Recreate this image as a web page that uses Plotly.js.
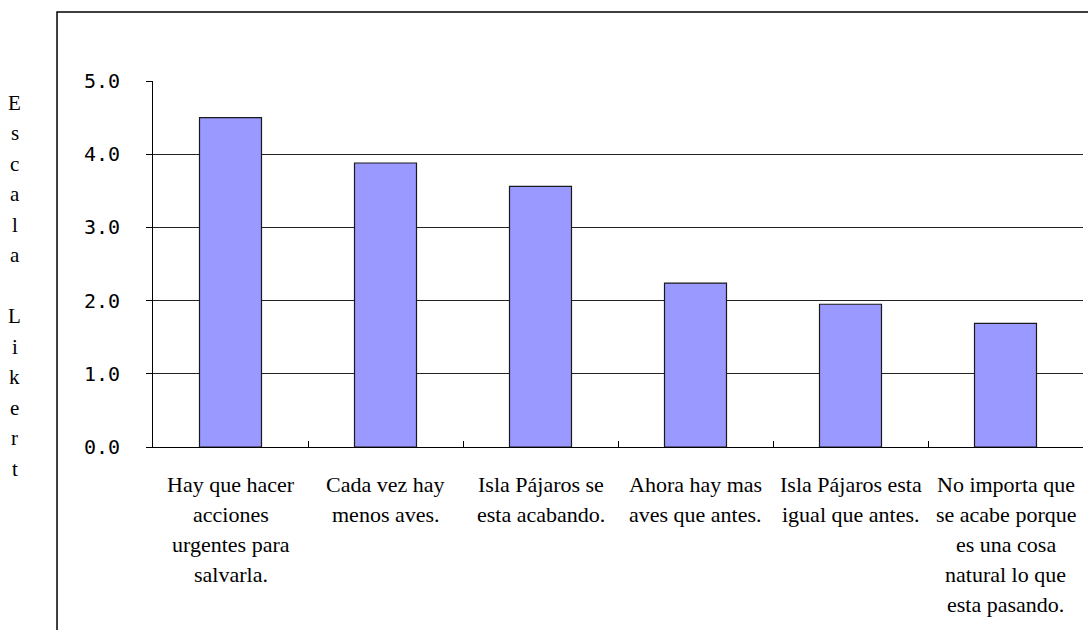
<!DOCTYPE html>
<html>
<head>
<meta charset="utf-8">
<script src="https://cdn.plot.ly/plotly-3.0.1.min.js"></script>
<style>
  html, body { margin: 0; padding: 0; background: #fff; }
  #chart { width: 1088px; height: 630px; }
</style>
</head>
<body>
<div id="chart"></div>
<script>
// Statements about Isla Pájaros, each split into the lines it is printed on
const categories = [
  ['Hay que hacer', 'acciones', 'urgentes para', 'salvarla.'],
  ['Cada vez hay', 'menos aves.'],
  ['Isla Pájaros se', 'esta acabando.'],
  ['Ahora hay mas', 'aves que antes.'],
  ['Isla Pájaros esta', 'igual que antes.'],
  ['No importa que', 'se acabe porque', 'es una cosa', 'natural lo que', 'esta pasando.']
];
// Mean agreement on the Likert scale
const values = [4.50, 3.88, 3.56, 2.24, 1.95, 1.69];
const yTicks = [0, 1, 2, 3, 4, 5];
const gridTicks = [1, 2, 3, 4];
const yTitle = 'Escala Likert';

const catKeys = categories.map(c => c.join(' '));
const serif = 'Liberation Serif';

const bars = {
  type: 'bar',
  x: catKeys,
  y: values,
  marker: { color: '#9999FF', line: { color: '#1a1a1a', width: 1.2 } },
  hoverinfo: 'x+y'
};

// Each label line is its own annotation so the line spacing stays open
const annotations = [];
categories.forEach((lines, ci) => {
  lines.forEach((line, li) => {
    annotations.push({
      xref: 'x', yref: 'paper', x: catKeys[ci], y: 0,
      xanchor: 'center', yanchor: 'middle',
      yshift: -(37 + li * 30),
      text: line, showarrow: false, borderpad: 0,
      font: { family: serif, size: 22, color: '#000' }
    });
  });
});

// Axis title set one letter per row down the left edge
Array.from(yTitle).forEach((ch, i) => {
  if (ch === ' ') return;
  annotations.push({
    xref: 'paper', yref: 'paper', x: -0.1484, y: 0.94,
    xanchor: 'center', yanchor: 'middle',
    yshift: -i * 30.5,
    text: ch, showarrow: false, borderpad: 0,
    font: { family: serif, size: 21, color: '#000' }
  });
});

const layout = {
  width: 1088, height: 630,
  margin: { l: 153, r: 5, t: 81, b: 183 },
  paper_bgcolor: '#fff', plot_bgcolor: '#fff',
  showlegend: false,
  bargap: 0.6,
  xaxis: {
    type: 'category',
    showticklabels: false,
    showline: true, linecolor: '#000', linewidth: 1,
    ticks: 'inside', tickson: 'boundaries', ticklen: 6, tickcolor: '#000', tickwidth: 1,
    showgrid: false, zeroline: false, fixedrange: true
  },
  yaxis: {
    range: [0, 5],
    tickvals: yTicks, tickformat: '.1f',
    ticks: 'outside', ticklen: 6, tickcolor: '#000', tickwidth: 1,
    ticklabelstandoff: 22,
    tickfont: { family: 'DejaVu Sans Mono, monospace', size: 20, color: '#000' },
    showline: true, linecolor: '#000', linewidth: 1,
    showgrid: false, zeroline: false, fixedrange: true
  },
  yaxis2: {
    overlaying: 'y', range: [0, 5],
    tickvals: gridTicks, showticklabels: false, ticks: '',
    showgrid: true, gridcolor: '#222', gridwidth: 1,
    showline: false, zeroline: false, fixedrange: true
  },
  shapes: [{
    type: 'rect', xref: 'paper', yref: 'paper',
    x0: -0.1032, x1: 1.02, y0: -0.6, y1: 1.1885,
    line: { color: '#000', width: 1.5 }, layer: 'below'
  }],
  annotations: annotations
};

// Invisible trace that carries the grid on the overlay axis
const gridCarrier = {
  type: 'scatter', x: [catKeys[0]], y: [0], yaxis: 'y2',
  mode: 'markers', marker: { opacity: 0 }, hoverinfo: 'skip'
};

Plotly.newPlot('chart', [gridCarrier, bars], layout, { staticPlot: true });
</script>
</body>
</html>
